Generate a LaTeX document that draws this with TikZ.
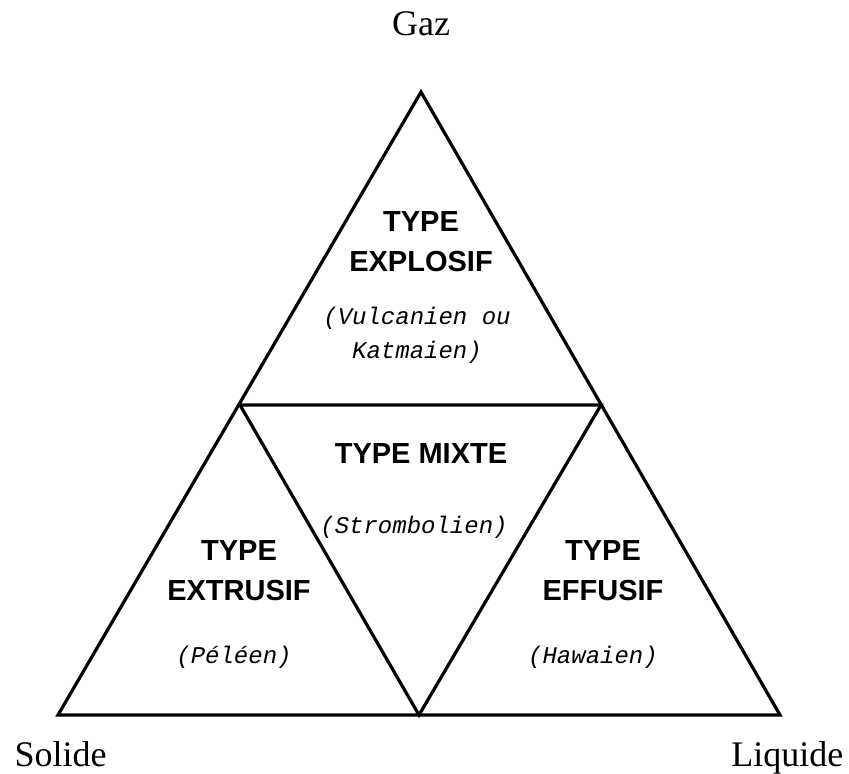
\documentclass[tikz,border=0pt]{standalone}
\usepackage{fontspec}
\setmainfont{Liberation Serif}
\setsansfont{Liberation Sans}
\setmonofont{Liberation Mono}

\begin{document}
\begin{tikzpicture}[x=1pt, y=-1pt, line width=3.2pt,
    phase/.style={font=\fontsize{36}{40}\selectfont, inner sep=0pt},
    titre/.style={font=\fontsize{29}{40}\selectfont\sffamily\bfseries, align=center},
    nom/.style={font=\fontsize{24}{34}\selectfont\ttfamily\itshape, align=center}]
    \useasboundingbox (0,0) rectangle (849,774);

    % sommets et milieux
    \coordinate (g) at (421,92);
    \coordinate (s) at (58,715);
    \coordinate (l) at (780,715);
    \coordinate (gs) at (240,405);
    \coordinate (gl) at (601,405);
    \coordinate (sl) at (419,715);

    \draw (g) -- (s) -- (l) -- cycle;
    \draw (gs) -- (gl) -- (sl) -- cycle;

    \node[phase, anchor=base] (gaz) at (421,35) {Gaz};
    \node[phase, anchor=base west] (solide) at (13,766) {Solide};
    \node[phase, anchor=base east] (liquide) at (845,766) {Liquide};

    \node[titre] (explosif) at (421,242) {TYPE\\EXPLOSIF};
    \node[nom] (vulcanien) at (417,335) {(Vulcanien ou\\Katmaien)};

    \node[titre] (mixte) at (421,454) {TYPE MIXTE};
    \node[nom] (strombolien) at (414,527) {(Strombolien)};

    \node[titre] (extrusif) at (239,571) {TYPE\\EXTRUSIF};
    \node[nom] (peleen) at (234,657) {(Péléen)};

    \node[titre] (effusif) at (603,571) {TYPE\\EFFUSIF};
    \node[nom] (hawaien) at (593,657) {(Hawaien)};
  \end{tikzpicture}
\end{document}
